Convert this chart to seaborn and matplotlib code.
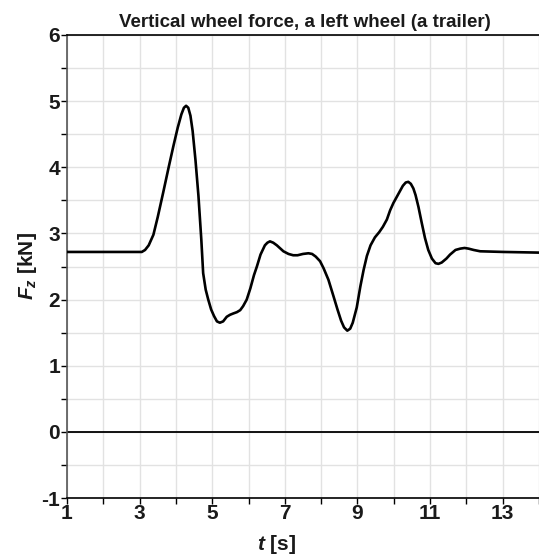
import numpy as np
import pandas as pd
import matplotlib
matplotlib.use("Agg")
import matplotlib.pyplot as plt
from matplotlib import font_manager
from matplotlib.ticker import MultipleLocator, FixedLocator
import seaborn as sns

# ---- data ----
t_s = [1.0, 2.0, 3.06, 3.15, 3.25, 3.38, 3.5, 3.65, 3.8, 3.93, 4.05, 4.15, 4.22,
       4.28, 4.34, 4.40, 4.46, 4.54, 4.62, 4.70, 4.75, 4.82, 4.89, 4.97, 5.05,
       5.13, 5.21, 5.30, 5.40, 5.49, 5.58, 5.68, 5.77, 5.85, 5.95, 6.05, 6.15,
       6.23, 6.33, 6.45, 6.52, 6.59, 6.68, 6.78, 6.88, 6.96, 7.1, 7.23, 7.35,
       7.5, 7.65, 7.75, 7.85, 7.97, 8.07, 8.2, 8.34, 8.45, 8.55, 8.63, 8.72,
       8.8, 8.87, 8.98, 9.08, 9.17, 9.26, 9.36, 9.48, 9.6, 9.7, 9.81, 9.9,
       9.99, 10.07, 10.15, 10.25, 10.33, 10.40, 10.47, 10.54, 10.6, 10.68,
       10.77, 10.86, 10.95, 11.05, 11.15, 11.23, 11.32, 11.45, 11.55, 11.7,
       11.83, 11.95, 12.06, 12.2, 12.38, 13.02, 14.0]
Fz_kN = [2.72, 2.72, 2.72, 2.75, 2.82, 2.98, 3.25, 3.62, 4.0, 4.32, 4.6, 4.8, 4.9,
         4.93, 4.9, 4.78, 4.55, 4.1, 3.57, 2.9, 2.40, 2.15, 2.0, 1.85, 1.75,
         1.67, 1.65, 1.67, 1.74, 1.77, 1.79, 1.81, 1.84, 1.90, 2.0, 2.17, 2.37,
         2.50, 2.68, 2.82, 2.86, 2.88, 2.86, 2.82, 2.77, 2.73, 2.69, 2.67, 2.67,
         2.69, 2.70, 2.69, 2.65, 2.58, 2.47, 2.30, 2.05, 1.85, 1.68, 1.58, 1.53,
         1.56, 1.65, 1.88, 2.2, 2.45, 2.66, 2.82, 2.94, 3.02, 3.10, 3.21, 3.35,
         3.46, 3.54, 3.62, 3.72, 3.77, 3.78, 3.75, 3.68, 3.58, 3.40,
         3.16, 2.93, 2.75, 2.62, 2.55, 2.54, 2.56, 2.62, 2.68, 2.75,
         2.77, 2.78, 2.77, 2.75, 2.73, 2.72, 2.71]
x_tick_labels = [1, 3, 5, 7, 9, 11, 13]
y_tick_labels = [-1, 0, 1, 2, 3, 4, 5, 6]

title = "Vertical wheel force, a left wheel (a trailer)"

df = pd.DataFrame({"t": t_s, "F": Fz_kN})

sns.set_theme(style="white")
names = {f.name for f in font_manager.fontManager.ttflist}
tick_family = "Liberation Sans Narrow" if "Liberation Sans Narrow" in names else "Liberation Sans"
plt.rcParams["font.family"] = ["Liberation Sans", "DejaVu Sans"]
plt.rcParams["mathtext.fontset"] = "custom"
plt.rcParams["mathtext.rm"] = "Liberation Sans:bold"
plt.rcParams["mathtext.it"] = "Liberation Sans:bold:italic"
plt.rcParams["mathtext.bf"] = "Liberation Sans:bold"
plt.rcParams["mathtext.bfit"] = "Liberation Sans:bold:italic"

fig = plt.figure(figsize=(5.39, 5.55), dpi=100)
ax = fig.add_axes([67 / 539, 1 - 498 / 555, 1 - 67 / 539, (498 - 35) / 555])

ax.set_xlim(1, 14)
ax.set_ylim(-1, 6)
ax.xaxis.set_major_locator(FixedLocator(x_tick_labels))
ax.xaxis.set_minor_locator(MultipleLocator(1))
ax.yaxis.set_major_locator(FixedLocator(y_tick_labels))
ax.yaxis.set_minor_locator(MultipleLocator(0.5))

ax.grid(True, which="both", color="#e2e2e2", linewidth=1.0)
ax.set_axisbelow(True)

ax.axhline(0, color="black", linewidth=1.3, zorder=2)

sns.lineplot(data=df, x="t", y="F", ax=ax, color="black", linewidth=1.9,
             sort=False, estimator=None, zorder=3)

for side in ["left", "top", "bottom"]:
    ax.spines[side].set_visible(True)
    ax.spines[side].set_color("black")
    ax.spines[side].set_linewidth(1.2)
ax.spines["left"].set_color("#555555")
ax.spines["right"].set_visible(False)

ax.tick_params(axis="both", which="both", direction="out", length=4, width=1,
               color="black", bottom=True, left=True, top=False, right=False)
ax.tick_params(axis="x", which="major", pad=0)
ax.tick_params(axis="y", which="major", pad=1)
ax.set_xticklabels([str(v) for v in x_tick_labels])
ax.set_yticklabels([str(v) for v in y_tick_labels])
for lab in ax.get_xticklabels() + ax.get_yticklabels():
    lab.set_fontfamily(tick_family)
    lab.set_fontweight("bold")
    lab.set_fontsize(15)
    lab.set_color("#1a1a1a")

ax.set_xlabel(r"$\mathit{t}$ [s]", fontsize=15, fontweight="bold", color="#1a1a1a", labelpad=0)
ax.xaxis.set_label_coords(0.445, -0.075)
ax.set_ylabel(r"$\mathit{F}_{\mathit{z}}$ [kN]", fontsize=15, fontweight="bold", color="#1a1a1a")
ax.yaxis.set_label_coords(-0.06, 0.5)

ax.set_title(title, fontsize=13.5, fontweight="bold", color="#1a1a1a", pad=6)
ax.title.set_position((0.505, 1.0))

fig.savefig("out.png", dpi=100, facecolor="white")
